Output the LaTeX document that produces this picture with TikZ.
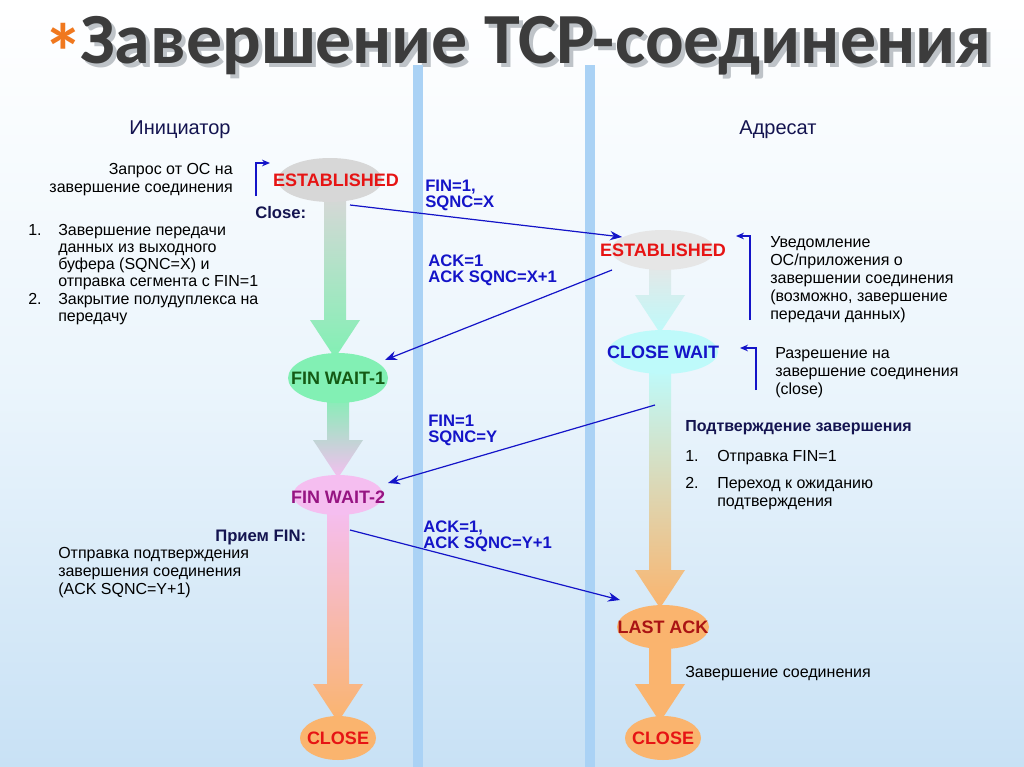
\documentclass[tikz,border=0pt]{standalone}
\usepackage{fontspec}
\setmainfont{Liberation Sans}
\newfontfamily\titlefont{Carlito}
\usetikzlibrary{arrows.meta,shapes.geometric}
\definecolor{msgblue}{RGB}{20,20,200}
\definecolor{navy}{RGB}{20,20,80}
\definecolor{gr}{RGB}{215,215,215}
\definecolor{grn}{RGB}{130,240,180}
\definecolor{pnk}{RGB}{245,190,240}
\definecolor{org}{RGB}{250,180,110}
\definecolor{cyn}{RGB}{190,250,250}
\definecolor{lgr}{RGB}{230,230,230}
\definecolor{bgbot}{RGB}{200,225,245}
\definecolor{bgmid}{RGB}{235,245,252}
\definecolor{barc}{RGB}{170,210,245}
\definecolor{titc}{RGB}{60,60,60}
\definecolor{shad}{RGB}{190,195,200}
\definecolor{starc}{RGB}{240,120,30}
\definecolor{sred}{RGB}{230,20,20}
\definecolor{sgreen}{RGB}{20,90,20}
\definecolor{spurp}{RGB}{150,20,130}
\definecolor{sdred}{RGB}{170,20,20}
\tikzset{
 st/.style={inner sep=0pt,font=\bfseries\fontsize{13.5}{14}\selectfont},
 msg/.style={draw=msgblue,line width=0.9pt,-{Stealth[length=9pt,width=7pt]}},
 lbl/.style={text=msgblue,font=\bfseries\fontsize{12.5}{11.5}\selectfont,align=left,anchor=north west,inner sep=0pt},
 txt/.style={font=\fontsize{12}{13.5}\selectfont,align=left,anchor=north west,inner sep=0pt,text=black},
 brk/.style={draw=msgblue,line width=0.9pt,-{Stealth[length=6pt,width=5pt]}},
}
\newcommand\myshaft[5]{% x, y1, y2, c1, c2
 \shade[top color=#4,bottom color=#5] (#1-11,#2) -- (#1+11,#2) -- (#1+11,#3-38) -- (#1+25,#3-38) -- (#1,#3) -- (#1-25,#3-38) -- (#1-11,#3-38) -- cycle;}
\newcommand\myell[5]{\fill[#1] (#2,#3) ellipse [x radius=#4,y radius=#5];}
\begin{document}
\begin{tikzpicture}[x=0.75pt,y=-0.75pt]
\shade[top color=white,bottom color=bgbot,middle color=bgmid] (0,0) rectangle (1024,767);
\useasboundingbox (0,0) rectangle (1024,767);
% title
\node[anchor=west,inner sep=0pt,font=\titlefont\bfseries\fontsize{54}{54}\selectfont,text=shad] (titles) at (84,50) {Завершение TCP-соединения};
\node[anchor=west,inner sep=0pt,font=\titlefont\bfseries\fontsize{54}{54}\selectfont,text=titc] (title) at (80,46) {Завершение TCP-соединения};
\node[anchor=east,inner sep=0pt,font=\titlefont\bfseries\fontsize{60}{50}\selectfont,text=starc] (star) at (84,52) {*};
% bars
\fill[barc] (413,65) rectangle (423,767);
\fill[barc] (585,65) rectangle (595,767);
% headers
\node[font=\fontsize{15}{15}\selectfont,text=navy] (h1) at (180,130) {Инициатор};
\node[font=\fontsize{15}{15}\selectfont,text=navy] (h2) at (778,130) {Адресат};
% shafts
\myshaft{335}{195}{358}{gr}{grn}
\myshaft{338}{395}{478}{grn}{pnk}
\myshaft{338}{510}{722}{pnk}{org}
\myshaft{660}{262}{333}{lgr}{cyn}
\myshaft{660}{370}{608}{cyn}{org}
\myshaft{660}{645}{722}{org}{org}
% states
\myell{gr}{330}{180}{52}{22}
\myell{grn}{338}{378}{50}{25}
\myell{pnk}{338}{495}{45}{20}
\myell{org}{338}{738}{38}{22}
\myell{lgr}{663}{250}{52}{20}
\myell{cyn}{663}{352}{55}{22}
\myell{org}{663}{627}{46}{22}
\myell{org}{663}{738}{38}{22}
\node[st,text=sred] (e1) at (336,180) {ESTABLISHED};
\node[st,text=sgreen] (fw1) at (338,378) {FIN WAIT-1};
\node[st,text=spurp] (fw2) at (338,497) {FIN WAIT-2};
\node[st,text=sred] (c1) at (338,738) {CLOSE};
\node[st,text=sred] (e2) at (663,250) {ESTABLISHED};
\node[st,text=msgblue] (cw) at (663,352) {CLOSE WAIT};
\node[st,text=sdred] (la) at (663,627) {LAST ACK};
\node[st,text=sred] (c2) at (663,738) {CLOSE};
% messages
\coordinate (m1a) at (350,205); \coordinate (m1b) at (622,237);
\coordinate (m2a) at (612,270); \coordinate (m2b) at (385,360);
\coordinate (m3a) at (655,405); \coordinate (m3b) at (388,483);
\coordinate (m4a) at (350,530); \coordinate (m4b) at (620,600);
\draw[msg] (m1a) -- (m1b);
\draw[msg] (m2a) -- (m2b);
\draw[msg] (m3a) -- (m3b);
\draw[msg] (m4a) -- (m4b);
\node[lbl] (l1) at (425,180) {FIN=1,\\SQNC=X};
\node[lbl] (l2) at (428,255) {ACK=1\\ACK SQNC=X+1};
\node[lbl] (l3) at (428,415) {FIN=1\\SQNC=Y};
\node[lbl] (l4) at (423,521) {ACK=1,\\ACK SQNC=Y+1};
% brackets
\coordinate (b1a) at (256,196); \coordinate (b1b) at (256,163); \coordinate (b1c) at (270,163);
\draw[brk] (b1a) -- (b1b) -- (b1c);
\coordinate (b2a) at (750,320); \coordinate (b2b) at (750,236); \coordinate (b2c) at (736,236);
\draw[brk] (b2a) -- (b2b) -- (b2c);
\coordinate (b3a) at (756,390); \coordinate (b3b) at (756,348); \coordinate (b3c) at (740,348);
\draw[brk] (b3a) -- (b3b) -- (b3c);
% texts
\node[txt,align=right,anchor=north east] (t1) at (233,163) {Запрос от ОС на\\завершение соединения};
\node[txt,font=\bfseries\fontsize{12.5}{13}\selectfont,text=navy] (t2) at (255,206) {Close:};
\node[txt,font=\fontsize{12}{12.8}\selectfont] (t3) at (28,224) {1.};
\node[txt,font=\fontsize{12}{12.8}\selectfont] (t4) at (58,224) {Завершение передачи\\данных из выходного\\буфера (SQNC=X) и\\отправка сегмента с FIN=1};
\node[txt,font=\fontsize{12}{12.8}\selectfont] (t5) at (28,293) {2.};
\node[txt,font=\fontsize{12}{12.8}\selectfont] (t6) at (58,293) {Закрытие полудуплекса на\\передачу};
\node[txt] (t7) at (770,236) {Уведомление\\ОС/приложения о\\завершении соединения\\(возможно, завершение\\передачи данных)};
\node[txt] (t8) at (775,347) {Разрешение на\\завершение соединения\\(close)};
\node[txt,font=\bfseries\fontsize{12}{13}\selectfont,text=navy] (t9) at (685,420) {Подтверждение завершения};
\node[txt] (t10) at (685,450) {1.};
\node[txt] (t11) at (717,450) {Отправка FIN=1};
\node[txt] (t12) at (685,477) {2.};
\node[txt] (t13) at (717,477) {Переход к ожиданию\\подтверждения};
\node[txt,font=\bfseries\fontsize{12.5}{13}\selectfont,text=navy] (t14) at (215,530) {Прием FIN:};
\node[txt] (t15) at (58,547) {Отправка подтверждения\\завершения соединения\\(ACK SQNC=Y+1)};
\node[txt] (t16) at (685,666) {Завершение соединения};
\end{tikzpicture}
\end{document}
